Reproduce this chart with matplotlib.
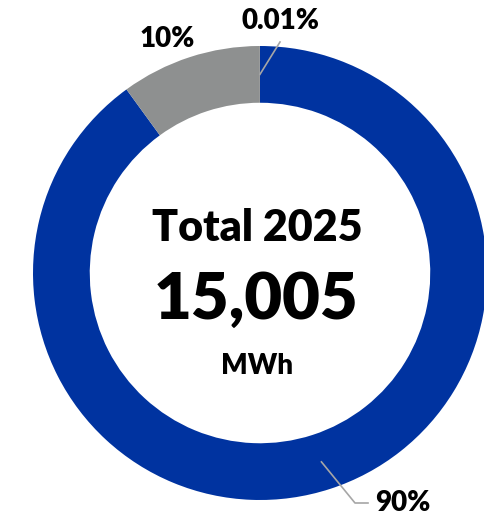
import numpy as np
import matplotlib.pyplot as plt

# shares of total generation, clockwise from the top
shares = [89.99, 10.0, 0.01]
share_labels = ["90%", "10%", "0.01%"]
colors = ["#0033A0", "#8E9090", "#8E9090"]

total_label = "Total 2025"
total_value = "15,005"
total_unit = "MWh"

FONT = "Lato"
LINE = "#A6A6A6"

fig = plt.figure(figsize=(4.84, 5.13), dpi=100)
ax = fig.add_axes([0, 0, 1, 1])

# px -> data: center (260, 273), radius 227 px
def px(x, y):
    return (x - 260) / 227.0, (273 - y) / 227.0

wedges, _ = ax.pie(shares, colors=colors, startangle=90, counterclock=False,
                   radius=1.0, wedgeprops=dict(width=0.25, edgecolor="none"))

ax.set_xlim(-260 / 227.0, 224 / 227.0)
ax.set_ylim(-240 / 227.0, 273 / 227.0)
ax.set_aspect("auto")
ax.axis("off")

def mid_point(w, r=0.875):
    a = np.deg2rad((w.theta1 + w.theta2) / 2)
    return r * np.cos(a), r * np.sin(a)

pct_style = dict(ha="center", va="center", fontsize=20, fontweight="heavy", family=FONT)

# 90% label with leader
x0, y0 = mid_point(wedges[0])
x1, y1 = px(355, 503)
x2, y2 = px(368, 503)
ax.plot([x0, x1, x2], [y0, y1, y2], color=LINE, lw=1.2)
ax.text(*px(403, 503), share_labels[0], **pct_style)

# 10% label
ax.text(*px(167, 39), share_labels[1], **pct_style)

# 0.01% label with leader
x0, y0 = mid_point(wedges[2])
x1, y1 = px(280, 42)
ax.plot([x0, x1], [y0, y1], color=LINE, lw=1.2)
ax.text(*px(280, 21), share_labels[2], **pct_style)

# center text
ax.text(*px(257, 228), total_label, ha="center", va="center",
        fontsize=31, fontweight="heavy", family=FONT)
ax.text(*px(256, 300), total_value, ha="center", va="center",
        fontsize=47, fontweight="heavy", family=FONT)
ax.text(*px(257, 366), total_unit, ha="center", va="center",
        fontsize=20, fontweight="heavy", family=FONT)

fig.savefig("out.png", dpi=100)
